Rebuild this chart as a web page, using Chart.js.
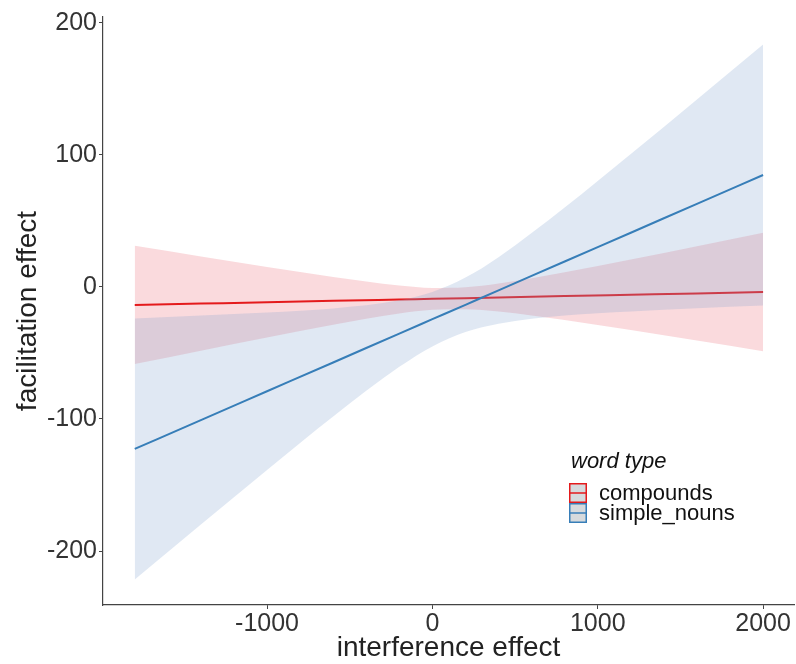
<!DOCTYPE html>
<html><head><meta charset="utf-8">
<script src="https://cdn.jsdelivr.net/npm/chart.js@4"></script>
<style>html,body{margin:0;padding:0;background:#fff;} canvas{display:block;}</style>
</head><body>
<canvas id="c" width="796" height="664"></canvas>
<script>
const xs = [-1800,-1400,-1000,-600,-200,0,200,400,800,1200,1600,2000];
const compoundsFit   = [-13.6,-12.6,-11.6,-10.5,-9.5,-9.0,-8.5,-8.0,-6.9,-5.9,-4.9,-3.8];
const compoundsLower = [-58.4,-48.3,-38.3,-28.6,-20.1,-17.3,-16.8,-18.6,-25.0,-32.6,-40.6,-48.6];
const compoundsUpper = [31.2,23.1,15.1,7.6,1.1,-0.7,-0.2,2.6,11.2,20.8,30.8,41.0];
const nounsFit   = [-122.7,-100.8,-79.0,-57.2,-35.3,-24.4,-13.5,-2.6,19.3,41.1,63.0,84.8];
const nounsLower = [-221.6,-179.9,-138.6,-98.1,-60.5,-45.0,-34.1,-27.8,-21.6,-18.5,-16.1,-14.1];
const nounsUpper = [-23.8,-21.7,-19.4,-16.3,-10.1,-3.8,7.1,22.6,60.2,100.7,142.1,183.7];
const xTicks = [-1000,0,1000,2000];
const yTicks = [-200,-100,0,100,200];
const seriesNames = ['compounds','simple_nouns'];
const legendTitle = 'word type';
const xTitle = 'interference effect';
const yTitle = 'facilitation effect';

const RED = '#E41A1C', BLUE = '#377EB8';
const RED_FILL = 'rgba(235,107,119,0.25)', BLUE_FILL = 'rgba(131,163,207,0.25)';
const FONT = '"Liberation Sans", Arial, sans-serif';
const pts = arr => xs.map((x,i)=>({x:x,y:arr[i]}));

function band(lower, upper, fill, orderBase){
  return [
    {data:pts(lower), borderWidth:0, pointRadius:0, fill:false, order:orderBase+2, borderColor:'transparent'},
    {data:pts(upper), borderWidth:0, pointRadius:0, fill:'-1', backgroundColor:fill, order:orderBase+1, borderColor:'transparent'}
  ];
}

const legendPlugin = {
  id:'ggLegend',
  afterDraw(chart){
    const ctx = chart.ctx;
    ctx.save();
    ctx.fillStyle = '#111';
    ctx.font = 'italic 22px ' + FONT;
    ctx.textBaseline = 'middle';
    ctx.textAlign = 'left';
    ctx.fillText(legendTitle, 571, 462);
    const cols = [RED, BLUE];
    seriesNames.forEach((name,i)=>{
      const y = 483 + i*20;
      ctx.fillStyle = '#d6dadd';
      ctx.fillRect(569, y, 18, 20);
      ctx.strokeStyle = cols[i];
      ctx.lineWidth = 1.5;
      ctx.strokeRect(569.75, y+0.75, 16.5, 18.5);
      ctx.beginPath(); ctx.moveTo(569, y+10); ctx.lineTo(587, y+10); ctx.stroke();
      ctx.fillStyle = '#111';
      ctx.font = '22px ' + FONT;
      ctx.fillText(name, 599, y+11);
    });
    ctx.restore();
  }
};

new Chart(document.getElementById('c'), {
  type:'line',
  data:{
    datasets:[
      ...band(compoundsLower, compoundsUpper, RED_FILL, 4),
      {data:pts(compoundsFit), borderColor:RED, borderWidth:2, pointRadius:0, fill:false, order:4},
      ...band(nounsLower, nounsUpper, BLUE_FILL, 1),
      {data:pts(nounsFit), borderColor:BLUE, borderWidth:2, pointRadius:0, fill:false, order:1}
    ]
  },
  options:{
    responsive:false, animation:false, devicePixelRatio:1,
    layout:{padding:{top:17,right:2,left:0,bottom:0}},
    plugins:{legend:{display:false}, tooltip:{enabled:false}},
    elements:{line:{cubicInterpolationMode:'monotone'}},
    scales:{
      x:{type:'linear', min:-1992, max:2187,
        afterBuildTicks(s){ s.ticks = xTicks.map(v=>({value:v})); },
        afterFit(s){ s.height = 59; },
        grid:{display:true, drawOnChartArea:false, drawTicks:true, tickLength:4, color:'#444'},
        border:{display:true, color:'#444', width:1.2},
        ticks:{font:{family:FONT,size:25}, color:'#333', padding:0, maxRotation:0, callback:v=>String(v)},
        title:{display:true, text:xTitle, font:{family:FONT,size:28,lineHeight:1}, color:'#222', padding:{top:0,bottom:2}}
      },
      y:{type:'linear', min:-240.9, max:204.5,
        afterBuildTicks(s){ s.ticks = yTicks.map(v=>({value:v})); },
        afterFit(s){ s.width = 103; },
        grid:{display:true, drawOnChartArea:false, drawTicks:true, tickLength:4, color:'#444'},
        border:{display:true, color:'#444', width:1.2},
        ticks:{font:{family:FONT,size:25}, color:'#333', padding:2, callback:v=>String(v)},
        title:{display:true, text:yTitle, font:{family:FONT,size:28,lineHeight:1}, color:'#222', padding:{top:14,bottom:0}}
      }
    }
  },
  plugins:[legendPlugin]
});
</script>
</body></html>
